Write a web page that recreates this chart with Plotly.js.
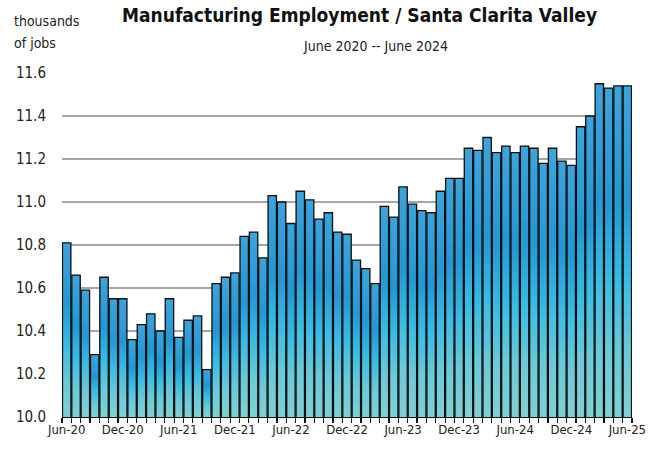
<!DOCTYPE html>
<html>
<head>
<meta charset="utf-8">
<script src="https://cdn.plot.ly/plotly-3.0.1.min.js"></script>
<style>html,body{margin:0;padding:0;background:#fff;}#chart{width:661px;height:451px;}</style>
</head>
<body>
<div id="chart"></div>
<script>
const months = ["Jun-20","Jul-20","Aug-20","Sep-20","Oct-20","Nov-20","Dec-20","Jan-21","Feb-21","Mar-21","Apr-21","May-21",
"Jun-21","Jul-21","Aug-21","Sep-21","Oct-21","Nov-21","Dec-21","Jan-22","Feb-22","Mar-22","Apr-22","May-22",
"Jun-22","Jul-22","Aug-22","Sep-22","Oct-22","Nov-22","Dec-22","Jan-23","Feb-23","Mar-23","Apr-23","May-23",
"Jun-23","Jul-23","Aug-23","Sep-23","Oct-23","Nov-23","Dec-23","Jan-24","Feb-24","Mar-24","Apr-24","May-24",
"Jun-24","Jul-24","Aug-24","Sep-24","Oct-24","Nov-24","Dec-24","Jan-25","Feb-25","Mar-25","Apr-25","May-25","Jun-25"];

const jobs = [10.81,10.66,10.59,10.29,10.65,10.55,10.55,10.36,10.43,10.48,10.40,10.55,
10.37,10.45,10.47,10.22,10.62,10.65,10.67,10.84,10.86,10.74,11.03,11.00,
10.90,11.05,11.01,10.92,10.95,10.86,10.85,10.73,10.69,10.62,10.98,10.93,
11.07,10.99,10.96,10.95,11.05,11.11,11.11,11.25,11.24,11.30,11.23,11.26,
11.23,11.26,11.25,11.18,11.25,11.19,11.17,11.35,11.40,11.55,11.53,11.54,11.54];

const labelMonths = ["Jun-20","Dec-20","Jun-21","Dec-21","Jun-22","Dec-22","Jun-23","Dec-23","Jun-24","Dec-24","Jun-25"];
const yTicks = [10.0,10.2,10.4,10.6,10.8,11.0,11.2,11.4,11.6];

const titleText = "Manufacturing Employment / Santa Clarita Valley";
const subtitleText = "June 2020 -- June 2024";
const unitLine1 = "thousands";
const unitLine2 = "of jobs";

const FONT = '"Liberation Sans Narrow", "DejaVu Sans Condensed", "Arial Narrow", sans-serif';
const AXIS_BASE = 10.0;

// gradient colour stops, top (0) to bottom (1) of each bar
const gradStops = [[0, [62,163,219]], [0.35, [36,151,212]], [0.58, [56,187,228]], [0.8, [108,201,216]], [1, [128,208,210]]];
function gradColor(t) {
  for (let i = 1; i < gradStops.length; i++) {
    if (t <= gradStops[i][0]) {
      const [t0, c0] = gradStops[i-1], [t1, c1] = gradStops[i];
      const u = (t - t0) / (t1 - t0);
      const c = c0.map((v, j) => Math.round(v + u * (c1[j] - v)));
      return 'rgb(' + c.join(',') + ')';
    }
  }
  return 'rgb(' + gradStops[gradStops.length-1][1].join(',') + ')';
}

// layered bars (same data, scaled toward the axis base) give each bar a vertical colour gradient
const STEPS = 40;
const traces = [];
for (let k = 0; k < STEPS; k++) {
  const f = 1 - k / STEPS;
  const tMid = (k + 0.5) / STEPS;
  traces.push({
    type: 'bar', x: months,
    y: jobs.map(v => AXIS_BASE + f * (v - AXIS_BASE)),
    marker: {color: gradColor(tMid), line: {width: 0}},
    hoverinfo: 'skip'
  });
}
traces.push({
  type: 'bar', x: months, y: jobs,
  marker: {color: 'rgba(0,0,0,0)', line: {color: '#111111', width: 1.3}},
  hoverinfo: 'skip'
});

const layout = {
  width: 661, height: 451,
  margin: {l: 62, r: 29, t: 73, b: 34},
  paper_bgcolor: '#ffffff', plot_bgcolor: '#ffffff',
  font: {family: FONT, size: 13, color: '#222222'},
  barmode: 'overlay',
  bargap: 0.1,
  showlegend: false,
  xaxis: {
    type: 'category',
    tickson: 'boundaries',
    tickmode: 'array',
    tickvals: months,
    ticktext: months.map(m => labelMonths.includes(m) ? m : ''),
    ticks: 'outside', ticklen: 5, tickwidth: 1.2, tickcolor: '#111',
    showline: true, linecolor: '#111', linewidth: 1.3,
    showgrid: false, zeroline: false,
    tickfont: {family: FONT, size: 13, color: '#222'},
    tickangle: 0,
    range: [-0.5, 60.5]
  },
  yaxis: {
    range: [10.0, 11.6],
    tickmode: 'array',
    tickvals: yTicks,
    ticktext: yTicks.map(v => v.toFixed(1)),
    showgrid: true, gridcolor: '#a6a6a6', gridwidth: 1.4,
    zeroline: false, showline: false,
    ticks: 'outside', ticklen: 12, tickcolor: 'rgba(0,0,0,0)',
    tickfont: {family: FONT, size: 15, color: '#222'}
  },
  annotations: [
    {text: '<b>' + titleText + '</b>', xref: 'paper', yref: 'paper', x: (359-62)/570, y: (417-15)/344,
     xanchor: 'center', yanchor: 'middle', showarrow: false, font: {family: FONT, size: 19, color: '#111'}},
    {text: subtitleText, xref: 'paper', yref: 'paper', x: (375-62)/570, y: (417-46)/344,
     xanchor: 'center', yanchor: 'middle', showarrow: false, font: {family: FONT, size: 14, color: '#222'}},
    {text: unitLine1, xref: 'paper', yref: 'paper', x: (12-62)/570, y: (417-21)/344,
     xanchor: 'left', yanchor: 'middle', showarrow: false, font: {family: FONT, size: 14, color: '#222'}},
    {text: unitLine2, xref: 'paper', yref: 'paper', x: (12-62)/570, y: (417-43)/344,
     xanchor: 'left', yanchor: 'middle', showarrow: false, font: {family: FONT, size: 14, color: '#222'}}
  ]
};

Plotly.newPlot('chart', traces, layout, {displayModeBar: false, staticPlot: true});
</script>
</body>
</html>
